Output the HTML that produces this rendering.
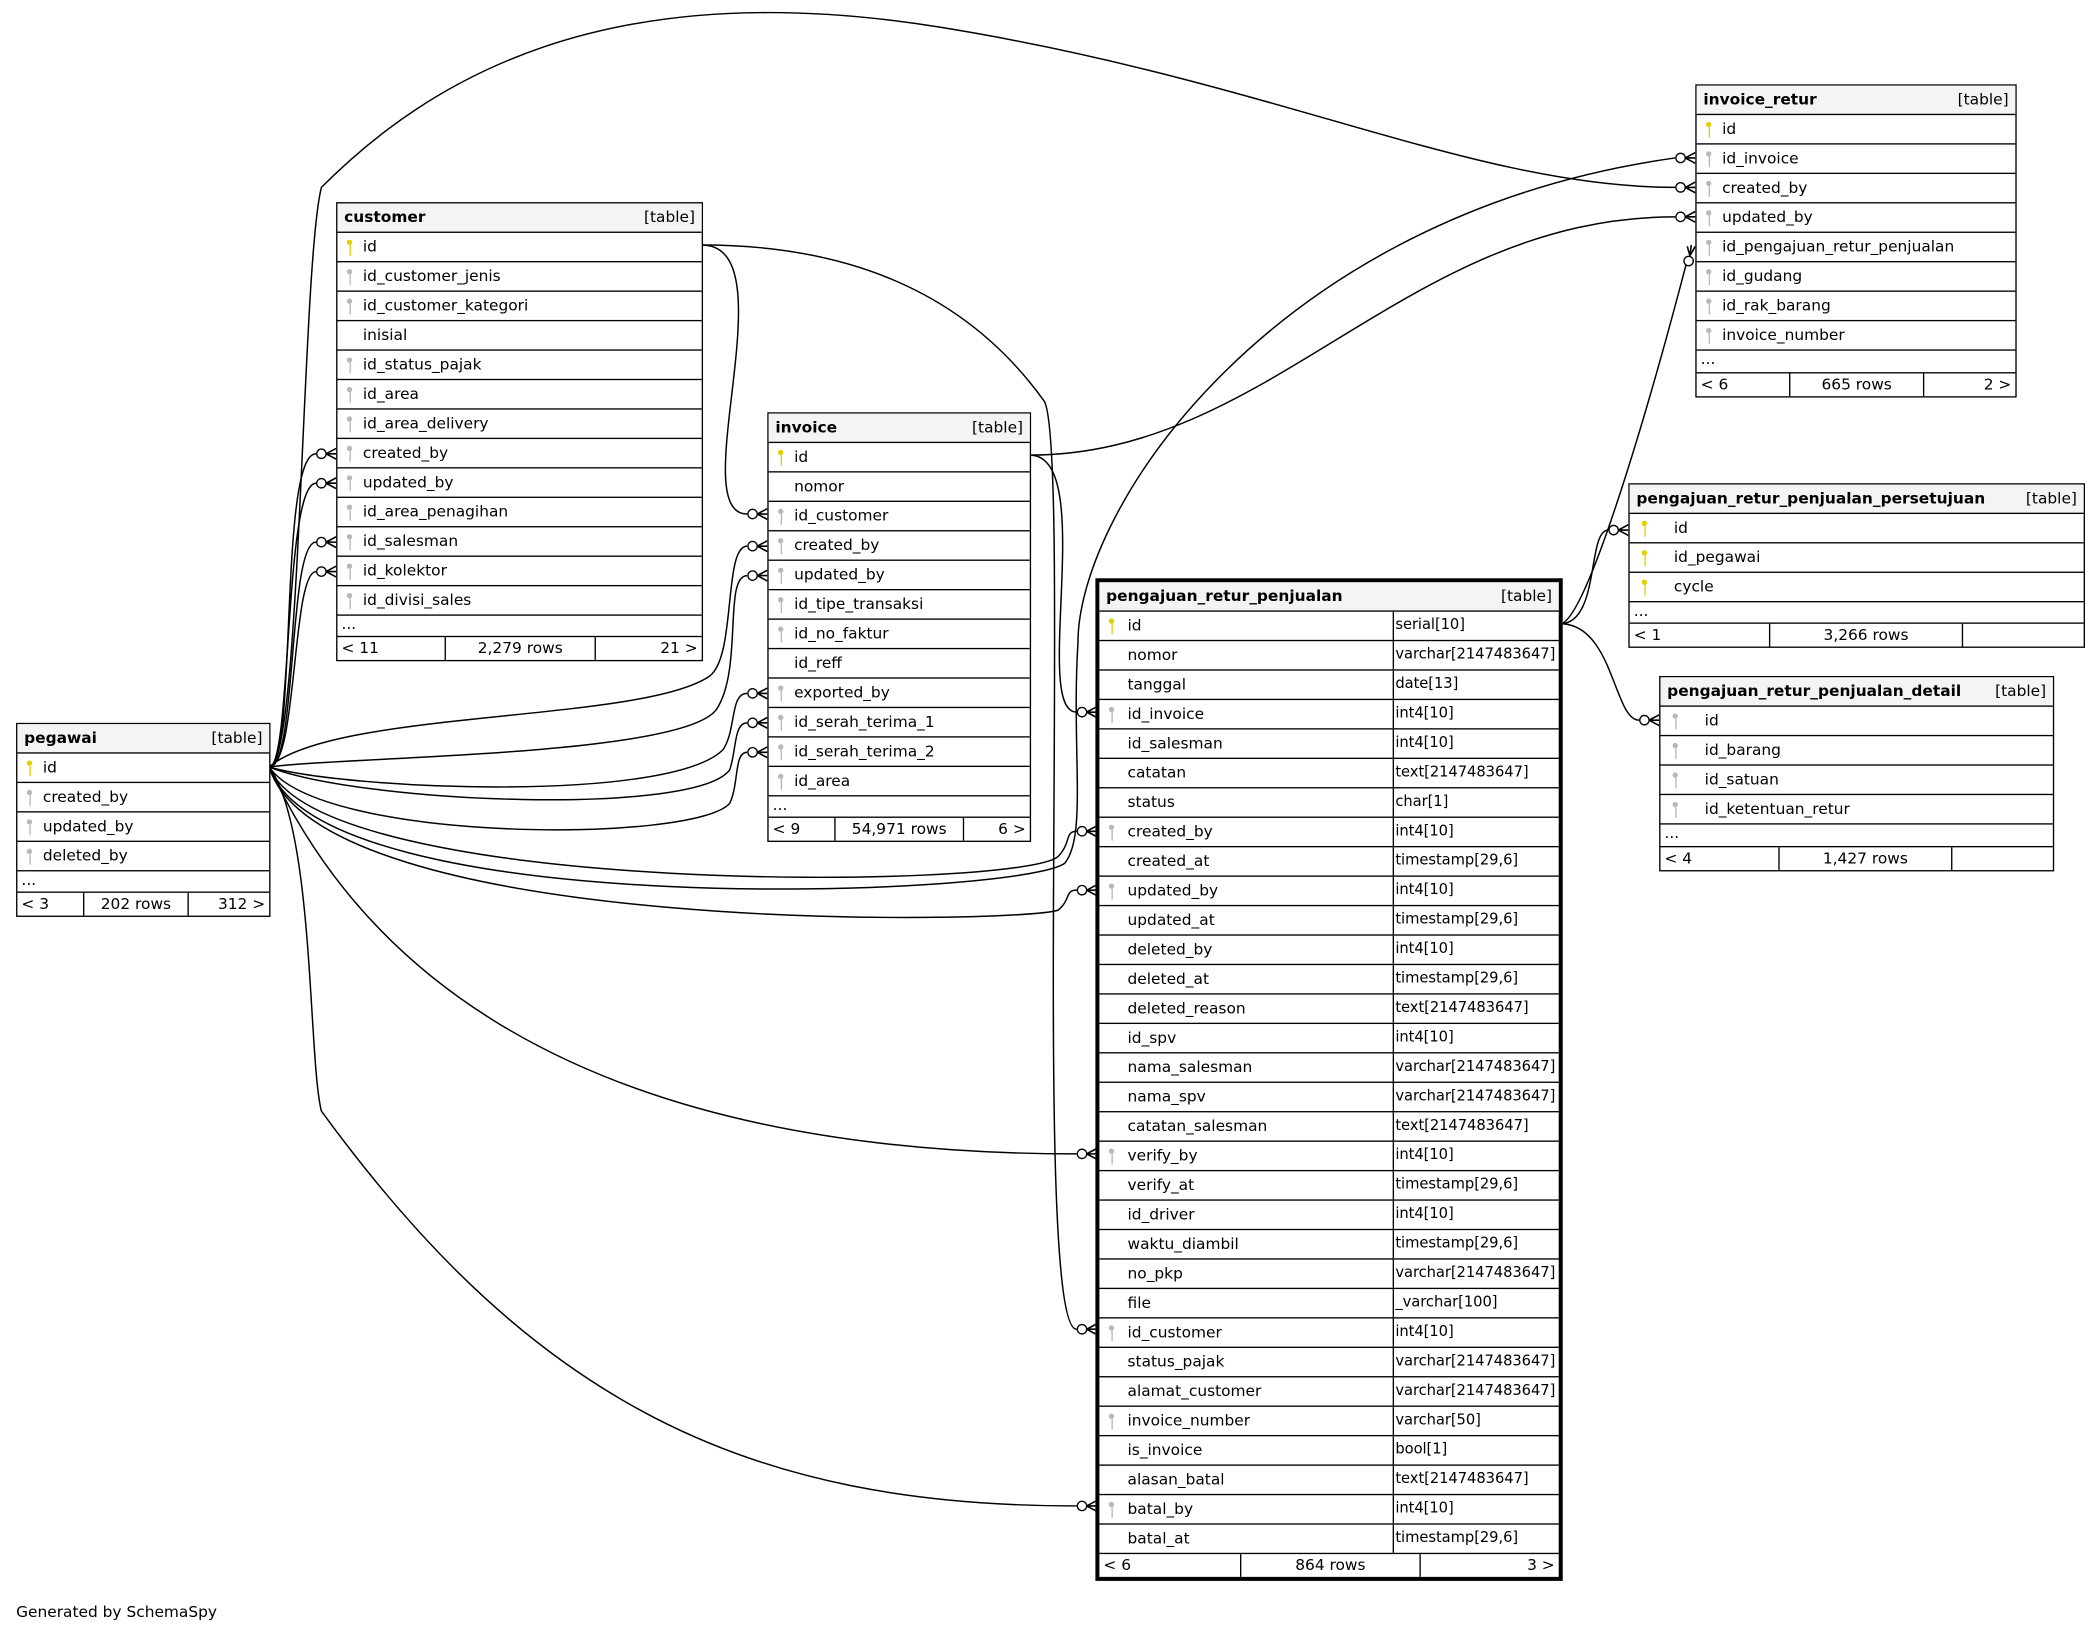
<!DOCTYPE html>
<html><head><meta charset="utf-8"><style>
html,body{margin:0;padding:0;background:#fff;width:2093px;height:1629px;overflow:hidden}
#c{position:absolute;left:0;top:0;width:1563px;height:1217px;transform:scale(1.3391,1.3386);transform-origin:0 0}
svg{position:absolute;left:0;top:0}
.t{position:absolute;border:1.5px solid #000;background:#fff;font:11.5px "DejaVu Sans","Liberation Sans",sans-serif;color:#000;box-sizing:border-box}
.h{height:21px;background:#f4f4f4;line-height:20px;padding:0 5px;font-weight:bold;position:relative}
.h span{position:absolute;right:5px;font-weight:normal}
.r{height:22px;box-sizing:border-box;border-top:1.5px solid #000;line-height:20px;padding-left:19px;position:relative;white-space:nowrap}
.k{position:absolute;left:7px;top:5px;width:5px;height:12px}
.k:before{content:"";position:absolute;left:0;top:0;width:4px;height:4px;border-radius:50%;background:currentColor}
.k:after{content:"";position:absolute;left:1.5px;top:4px;width:1.2px;height:8px;background:currentColor}
.pk{color:#e0d000}.fk{color:#b8b8b8}
.d{height:16px;border-top:1.5px solid #000;line-height:13px;padding-left:3px;box-sizing:border-box}
.f{border-top:1.5px solid #000;display:flex;line-height:17px;box-sizing:border-box}
.f div{box-sizing:border-box;padding:0 3px}
.f .m{text-align:center;border-left:1px solid #000;border-right:1px solid #000}
.f .z{text-align:right}
.wide .r{padding-left:33px}
.wide .k{left:9px}
.p .r{display:flex;padding-left:0}
.p .r .a{flex:none;width:220px;padding-left:21px;border-right:1.5px solid #000;box-sizing:border-box;position:relative}
.p .r .b{flex:none;width:123px;padding-left:1px;overflow:visible;font-size:11px;letter-spacing:-0.05px}
.gen{position:absolute;left:12px;top:1197px;font:11.5px "DejaVu Sans","Liberation Sans",sans-serif}
</style></head><body><div id="c">
<svg width="1563" height="1217" viewBox="0 0 1563 1217" fill="none" stroke="#000" stroke-width="1.1">
<path d="M201,573 C222,573 208,339 236,339"/>
<path d="M201,573 C218,573 212,361 236,361"/>
<path d="M201,573 C222,573 215,405 236,405"/>
<path d="M201,573 C222,573 218,427 236,427"/>
<path d="M201,573 C250,530 480,540 530,505 C550,490 540,408 558,408"/>
<path d="M201,573 C260,565 510,565 535,530 C555,500 540,430 558,430"/>
<path d="M201,573 C260,590 500,600 540,560 C550,545 545,518 558,518"/>
<path d="M201,573 C270,600 520,610 545,575 C550,560 548,540 558,540"/>
<path d="M201,573 C240,630 520,630 545,600 C552,585 548,562 558,562"/>
<path d="M201,573 C240,670 760,665 790,640 C800,630 795,621 804,621"/>
<path d="M201,573 C240,700 760,690 790,680 C800,672 795,665 804,665"/>
<path d="M201,573 C240,690 760,670 795,645 C812,625 800,560 805,480 C805,380 950,160 1251,118"/>
<path d="M201,573 C260,700 400,862 804,862"/>
<path d="M201,573 C235,620 230,790 240,830 C400,1050 560,1125 804,1125"/>
<path d="M201,573 C225,573 225,200 240,140 C320,60 450,-20 700,20 C950,60 1100,140 1251,140"/>
<path d="M524,183 C590,183 510,384 558,384"/>
<path d="M524,183 C650,183 730,230 780,300 C800,340 770,993 804,993"/>
<path d="M769,340 C820,340 770,532 804,532"/>
<path d="M769,340 C950,340 1050,162 1251,162"/>
<path d="M1165,466 C1185,466 1235,290 1259,198"/>
<path d="M1165,466 C1195,466 1185,396 1201,396"/>
<path d="M1165,466 C1205,466 1205,538 1224,538"/>
<g fill="#fff" stroke-width="1">
<circle cx="240" cy="339" r="3.5"/><circle cx="240" cy="361" r="3.5"/><circle cx="240" cy="405" r="3.5"/><circle cx="240" cy="427" r="3.5"/>
<circle cx="562" cy="384" r="3.5"/><circle cx="562" cy="408" r="3.5"/><circle cx="562" cy="430" r="3.5"/><circle cx="562" cy="518" r="3.5"/><circle cx="562" cy="540" r="3.5"/><circle cx="562" cy="562" r="3.5"/>
<circle cx="808" cy="532" r="3.5"/><circle cx="808" cy="621" r="3.5"/><circle cx="808" cy="665" r="3.5"/><circle cx="808" cy="862" r="3.5"/><circle cx="808" cy="993" r="3.5"/><circle cx="808" cy="1125" r="3.5"/>
<circle cx="1255" cy="118" r="3.5"/><circle cx="1255" cy="140" r="3.5"/><circle cx="1255" cy="162" r="3.5"/><circle cx="1261" cy="195" r="3.5"/>
<circle cx="1205" cy="396" r="3.5"/><circle cx="1228" cy="538" r="3.5"/>
</g>
<g stroke-width="1.2">
<path d="M243.5,339 L251,335 M243.5,339 L251,339 M243.5,339 L251,343"/>
<path d="M243.5,361 L251,357 M243.5,361 L251,361 M243.5,361 L251,365"/>
<path d="M243.5,405 L251,401 M243.5,405 L251,405 M243.5,405 L251,409"/>
<path d="M243.5,427 L251,423 M243.5,427 L251,427 M243.5,427 L251,431"/>
<path d="M565.5,384 L573,380 M565.5,384 L573,384 M565.5,384 L573,388"/>
<path d="M565.5,408 L573,404 M565.5,408 L573,408 M565.5,408 L573,412"/>
<path d="M565.5,430 L573,426 M565.5,430 L573,430 M565.5,430 L573,434"/>
<path d="M565.5,518 L573,514 M565.5,518 L573,518 M565.5,518 L573,522"/>
<path d="M565.5,540 L573,536 M565.5,540 L573,540 M565.5,540 L573,544"/>
<path d="M565.5,562 L573,558 M565.5,562 L573,562 M565.5,562 L573,566"/>
<path d="M811.5,532 L819,528 M811.5,532 L819,532 M811.5,532 L819,536"/>
<path d="M811.5,621 L819,617 M811.5,621 L819,621 M811.5,621 L819,625"/>
<path d="M811.5,665 L819,661 M811.5,665 L819,665 M811.5,665 L819,669"/>
<path d="M811.5,862 L819,858 M811.5,862 L819,862 M811.5,862 L819,866"/>
<path d="M811.5,993 L819,989 M811.5,993 L819,993 M811.5,993 L819,997"/>
<path d="M811.5,1125 L819,1121 M811.5,1125 L819,1125 M811.5,1125 L819,1129"/>
<path d="M1258.5,118 L1266,114 M1258.5,118 L1266,118 M1258.5,118 L1266,122"/>
<path d="M1258.5,140 L1266,136 M1258.5,140 L1266,140 M1258.5,140 L1266,144"/>
<path d="M1258.5,162 L1266,158 M1258.5,162 L1266,162 M1258.5,162 L1266,166"/>
<path d="M1262,191 L1266,184 M1262,191 L1263,183 M1262,191 L1260,184"/>
<path d="M1208.5,396 L1216,392 M1208.5,396 L1216,396 M1208.5,396 L1216,400"/>
<path d="M1231.5,538 L1239,534 M1231.5,538 L1239,538 M1231.5,538 L1239,542"/>
</g>
</svg>

<div class="t" style="left:12px;top:540px;width:190px">
<div class="h">pegawai<span>[table]</span></div>
<div class="r"><i class="k pk"></i>id</div>
<div class="r"><i class="k fk"></i>created_by</div>
<div class="r"><i class="k fk"></i>updated_by</div>
<div class="r"><i class="k fk"></i>deleted_by</div>
<div class="d">...</div>
<div class="f"><div style="width:49px">&lt; 3</div><div class="m" style="width:79px">202 rows</div><div class="z" style="flex:1">312 &gt;</div></div>
</div>

<div class="t" style="left:251px;top:151px;width:274px">
<div class="h">customer<span>[table]</span></div>
<div class="r"><i class="k pk"></i>id</div>
<div class="r"><i class="k fk"></i>id_customer_jenis</div>
<div class="r"><i class="k fk"></i>id_customer_kategori</div>
<div class="r">inisial</div>
<div class="r"><i class="k fk"></i>id_status_pajak</div>
<div class="r"><i class="k fk"></i>id_area</div>
<div class="r"><i class="k fk"></i>id_area_delivery</div>
<div class="r"><i class="k fk"></i>created_by</div>
<div class="r"><i class="k fk"></i>updated_by</div>
<div class="r"><i class="k fk"></i>id_area_penagihan</div>
<div class="r"><i class="k fk"></i>id_salesman</div>
<div class="r"><i class="k fk"></i>id_kolektor</div>
<div class="r"><i class="k fk"></i>id_divisi_sales</div>
<div class="d">...</div>
<div class="f"><div style="width:80px">&lt; 11</div><div class="m" style="width:113px">2,279 rows</div><div class="z" style="flex:1">21 &gt;</div></div>
</div>

<div class="t" style="left:573px;top:308px;width:197px">
<div class="h">invoice<span>[table]</span></div>
<div class="r"><i class="k pk"></i>id</div>
<div class="r">nomor</div>
<div class="r"><i class="k fk"></i>id_customer</div>
<div class="r"><i class="k fk"></i>created_by</div>
<div class="r"><i class="k fk"></i>updated_by</div>
<div class="r"><i class="k fk"></i>id_tipe_transaksi</div>
<div class="r"><i class="k fk"></i>id_no_faktur</div>
<div class="r">id_reff</div>
<div class="r"><i class="k fk"></i>exported_by</div>
<div class="r"><i class="k fk"></i>id_serah_terima_1</div>
<div class="r"><i class="k fk"></i>id_serah_terima_2</div>
<div class="r"><i class="k fk"></i>id_area</div>
<div class="d">...</div>
<div class="f"><div style="width:49px">&lt; 9</div><div class="m" style="width:97px">54,971 rows</div><div class="z" style="flex:1">6 &gt;</div></div>
</div>

<div class="t" style="left:1266px;top:63px;width:240px">
<div class="h">invoice_retur<span>[table]</span></div>
<div class="r"><i class="k pk"></i>id</div>
<div class="r"><i class="k fk"></i>id_invoice</div>
<div class="r"><i class="k fk"></i>created_by</div>
<div class="r"><i class="k fk"></i>updated_by</div>
<div class="r"><i class="k fk"></i>id_pengajuan_retur_penjualan</div>
<div class="r"><i class="k fk"></i>id_gudang</div>
<div class="r"><i class="k fk"></i>id_rak_barang</div>
<div class="r"><i class="k fk"></i>invoice_number</div>
<div class="d" style="height:17px">...</div>
<div class="f"><div style="width:69px">&lt; 6</div><div class="m" style="width:101px">665 rows</div><div class="z" style="flex:1">2 &gt;</div></div>
</div>

<div class="t wide" style="left:1216px;top:361px;width:341px">
<div class="h">pengajuan_retur_penjualan_persetujuan<span>[table]</span></div>
<div class="r"><i class="k pk"></i>id</div>
<div class="r"><i class="k pk"></i>id_pegawai</div>
<div class="r"><i class="k pk"></i>cycle</div>
<div class="d">...</div>
<div class="f"><div style="width:104px">&lt; 1</div><div class="m" style="width:145px">3,266 rows</div><div class="z" style="flex:1"></div></div>
</div>

<div class="t wide" style="left:1239px;top:505px;width:295px">
<div class="h">pengajuan_retur_penjualan_detail<span>[table]</span></div>
<div class="r"><i class="k fk"></i>id</div>
<div class="r"><i class="k fk"></i>id_barang</div>
<div class="r"><i class="k fk"></i>id_satuan</div>
<div class="r"><i class="k fk"></i>id_ketentuan_retur</div>
<div class="d" style="height:17px">...</div>
<div class="f"><div style="width:88px">&lt; 4</div><div class="m" style="width:130px">1,427 rows</div><div class="z" style="flex:1"></div></div>
</div>

<div class="t p" style="left:818px;top:432px;width:349px;border:3px solid #000">
<div class="h">pengajuan_retur_penjualan<span>[table]</span></div>
<div class="r"><div class="a"><i class="k pk"></i>id</div><div class="b">serial[10]</div></div>
<div class="r"><div class="a">nomor</div><div class="b">varchar[2147483647]</div></div>
<div class="r"><div class="a">tanggal</div><div class="b">date[13]</div></div>
<div class="r"><div class="a"><i class="k fk"></i>id_invoice</div><div class="b">int4[10]</div></div>
<div class="r"><div class="a">id_salesman</div><div class="b">int4[10]</div></div>
<div class="r"><div class="a">catatan</div><div class="b">text[2147483647]</div></div>
<div class="r"><div class="a">status</div><div class="b">char[1]</div></div>
<div class="r"><div class="a"><i class="k fk"></i>created_by</div><div class="b">int4[10]</div></div>
<div class="r"><div class="a">created_at</div><div class="b">timestamp[29,6]</div></div>
<div class="r"><div class="a"><i class="k fk"></i>updated_by</div><div class="b">int4[10]</div></div>
<div class="r"><div class="a">updated_at</div><div class="b">timestamp[29,6]</div></div>
<div class="r"><div class="a">deleted_by</div><div class="b">int4[10]</div></div>
<div class="r"><div class="a">deleted_at</div><div class="b">timestamp[29,6]</div></div>
<div class="r"><div class="a">deleted_reason</div><div class="b">text[2147483647]</div></div>
<div class="r"><div class="a">id_spv</div><div class="b">int4[10]</div></div>
<div class="r"><div class="a">nama_salesman</div><div class="b">varchar[2147483647]</div></div>
<div class="r"><div class="a">nama_spv</div><div class="b">varchar[2147483647]</div></div>
<div class="r"><div class="a">catatan_salesman</div><div class="b">text[2147483647]</div></div>
<div class="r"><div class="a"><i class="k fk"></i>verify_by</div><div class="b">int4[10]</div></div>
<div class="r"><div class="a">verify_at</div><div class="b">timestamp[29,6]</div></div>
<div class="r"><div class="a">id_driver</div><div class="b">int4[10]</div></div>
<div class="r"><div class="a">waktu_diambil</div><div class="b">timestamp[29,6]</div></div>
<div class="r"><div class="a">no_pkp</div><div class="b">varchar[2147483647]</div></div>
<div class="r"><div class="a">file</div><div class="b">_varchar[100]</div></div>
<div class="r"><div class="a"><i class="k fk"></i>id_customer</div><div class="b">int4[10]</div></div>
<div class="r"><div class="a">status_pajak</div><div class="b">varchar[2147483647]</div></div>
<div class="r"><div class="a">alamat_customer</div><div class="b">varchar[2147483647]</div></div>
<div class="r"><div class="a"><i class="k fk"></i>invoice_number</div><div class="b">varchar[50]</div></div>
<div class="r"><div class="a">is_invoice</div><div class="b">bool[1]</div></div>
<div class="r"><div class="a">alasan_batal</div><div class="b">text[2147483647]</div></div>
<div class="r"><div class="a"><i class="k fk"></i>batal_by</div><div class="b">int4[10]</div></div>
<div class="r"><div class="a">batal_at</div><div class="b">timestamp[29,6]</div></div>
<div class="f"><div style="width:105px">&lt; 6</div><div class="m" style="width:135px">864 rows</div><div class="z" style="flex:1">3 &gt;</div></div>
</div>

<div class="gen">Generated by SchemaSpy</div>
</div></body></html>
